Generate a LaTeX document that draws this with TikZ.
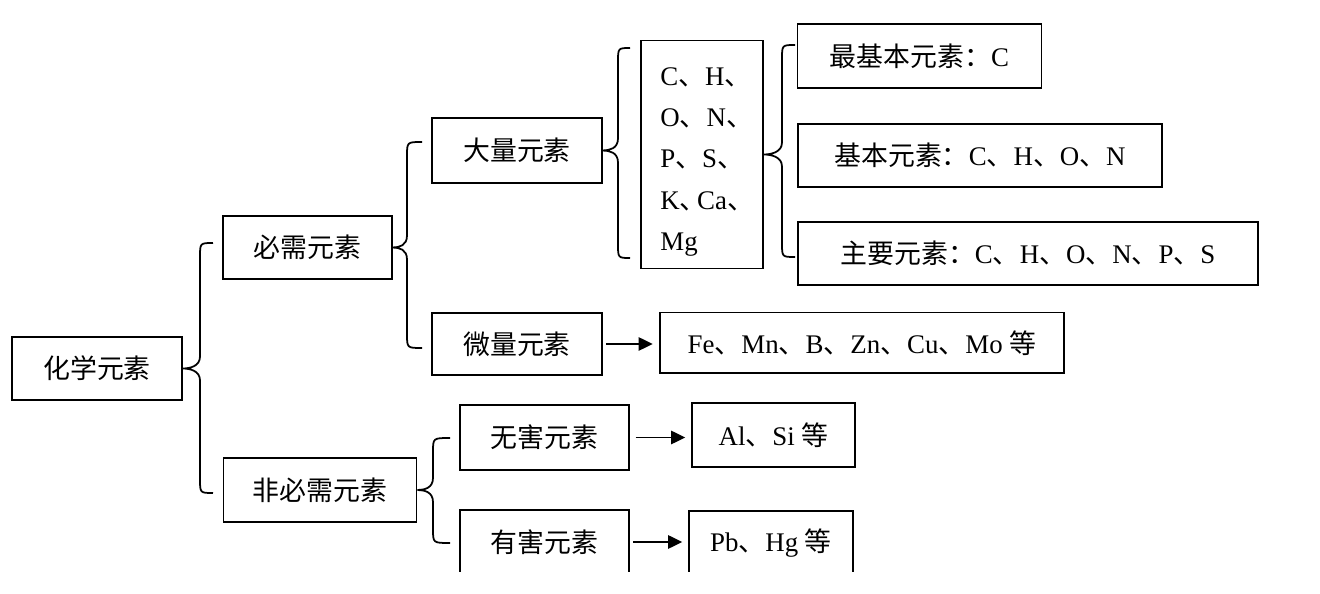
\documentclass[tikz,border=0pt]{standalone}
\usepackage{fontspec}
\setmainfont{Liberation Serif}
\newfontfamily\cjk{Noto Sans CJK SC}
\newcommand\zh[1]{{\cjk #1}}
\usetikzlibrary{arrows.meta,calc}
% #1 node, #2 tip y, #3 x of vertical, #4 x of ends, #5 top y, #6 bottom y
\newcommand\curly[6]{%
  \draw[brc] (#4,#5) .. controls (#3,#5) .. (#3,#5+14) -- (#3,#2-12)
    .. controls (#3,#2-2) and ($(#1.east)+(7,0)$) .. (#1.east)
    .. controls ($(#1.east)+(7,0)$) and (#3,#2+2) .. (#3,#2+12)
    -- (#3,#6-14) .. controls (#3,#6) .. (#4,#6);}
\begin{document}
\begin{tikzpicture}[x=0.02cm,y=-0.02cm,
  bw/.style={minimum width=#1*0.5669pt},
  bh/.style={minimum height=#1*0.5669pt},
  box/.style={draw, line width=1pt, inner sep=0pt, font=\fontsize{15.3}{18}\selectfont},
  brc/.style={line width=1pt},
  arr/.style={line width=1.1pt, -{Triangle[length=8pt,width=7.5pt]}}]
\useasboundingbox[fill=white] (0,0) rectangle (1320,594);
\begin{scope}
\clip (0,0) rectangle (1320,572);
\node[box, bw=170, bh=63] (chem) at (97,368.5) {\zh{化学元素}};
\node[box, bw=169, bh=63] (need) at (307.5,247.5) {\zh{必需元素}};
\node[box, bw=194, bh=64] (nonneed) at (320,490) {\zh{非必需元素}};
\node[box, bw=170, bh=65] (major) at (517,150.5) {\zh{大量元素}};
\node[box, bw=170, bh=62] (trace) at (517,344) {\zh{微量元素}};
\node[box, bw=122, bh=229] (elems) at (702,154.5) {};
\node[anchor=west, inner sep=0pt, align=left, font=\fontsize{15.3}{23.5}\selectfont] (eltxt) at (660,162)
  {C\zh{、}H\zh{、}\\O\zh{、}N\zh{、}\\P\zh{、}S\zh{、}\\K\zh{、}\hspace{-0.35em}Ca\zh{、}\\Mg};
\node[box, bw=245, bh=64] (most) at (919.5,56) {\zh{最基本元素：}C};
\node[box, bw=366, bh=63] (basic) at (980,155.5) {\zh{基本元素：}C\zh{、}H\zh{、}O\zh{、}N};
\node[box, bw=462, bh=63] (main) at (1028,253.5) {\zh{主要元素：}C\zh{、}H\zh{、}O\zh{、}N\zh{、}P\zh{、}S};
\node[box, bw=406, bh=61] (fe) at (862,343) {Fe\zh{、}Mn\zh{、}B\zh{、}Zn\zh{、}Cu\zh{、}Mo \zh{等}};
\node[box, bw=169, bh=65] (harmless) at (544.5,437.5) {\zh{无害元素}};
\node[box, bw=163, bh=64] (al) at (773.5,435) {Al\zh{、}Si \zh{等}};
\node[box, bw=169, bh=64] (harmful) at (544.5,542) {\zh{有害元素}};
\node[box, bw=164, bh=64] (pb) at (771,543) {Pb\zh{、}Hg \zh{等}};

\curly{chem}{368.5}{200}{213}{243}{493}
\curly{need}{247.5}{407}{422}{142}{348}
\curly{major}{150.5}{618}{630}{48}{258}
\curly{elems}{154.5}{782}{795}{45}{257}
\curly{nonneed}{490}{433}{450}{438}{543}

\draw[arr, shorten <=2pt, shorten >=3.5pt] (trace.east) -- (trace.east -| fe.west);
\draw[arr, shorten <=3.5pt, shorten >=3.5pt] (harmless.east) -- (harmless.east -| al.west);
\draw[arr, shorten <=2pt, shorten >=3.5pt] (harmful.east) -- (harmful.east -| pb.west);
\end{scope}
\end{tikzpicture}
\end{document}
